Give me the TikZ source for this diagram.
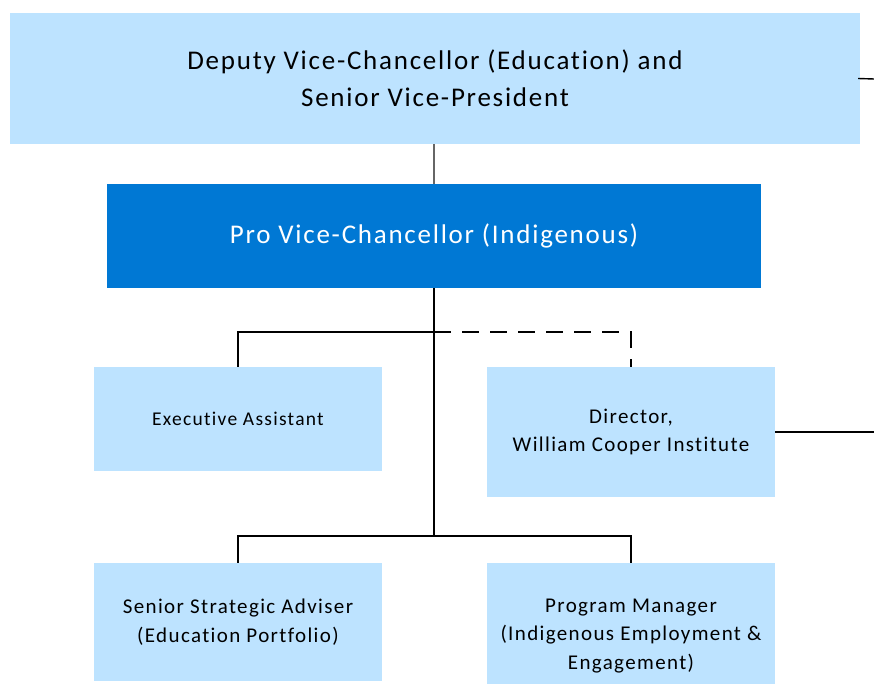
\documentclass[tikz,border=0pt]{standalone}
\usepackage{fontspec}
\setmainfont{Carlito}[LetterSpace=6.5, Ligatures=NoCommon]
\definecolor{lightbox}{RGB}{189,227,255}
\definecolor{darkbox}{RGB}{0,120,212}
\tikzset{
  unit/.style={fill=lightbox, inner sep=0pt, align=center, text=black},
  head/.style={fill=darkbox, inner sep=0pt, align=center, text=white},
  link/.style={line width=1.4pt, black}
}
\begin{document}
\begin{tikzpicture}[x=1pt,y=-1pt]
	\useasboundingbox (0,0) rectangle (874,684);
	\node[unit, minimum width=850pt, minimum height=131pt, font=\fontsize{27}{37}\selectfont] (dvc) at (435,78.5) {Deputy Vice-Chancellor (Education) and\\Senior Vice-President};
	\node[head, minimum width=654pt, minimum height=104pt, font=\fontsize{27}{32}\selectfont] (pvc) at (434,236) {Pro Vice-Chancellor (Indigenous)};
	\node[unit, minimum width=288pt, minimum height=104pt, font=\fontsize{19.5}{24}\selectfont] (ea) at (238,419) {Executive Assistant};
	\node[unit, minimum width=288pt, minimum height=130pt, font=\fontsize{21}{28}\selectfont] (dir) at (631,432) {Director,\\William Cooper Institute};
	\node[unit, minimum width=288pt, minimum height=118pt, font=\fontsize{21}{28.5}\selectfont] (ssa) at (238,622) {Senior Strategic Adviser\\(Education Portfolio)};
	\node[unit, minimum width=288pt, minimum height=146pt, font=\fontsize{21}{28.5}\selectfont] (pm) at (631,636) {Program Manager\\(Indigenous Employment \&\\Engagement)};
	%\coordinate for the junctions and the cut-off lines
	\coordinate (j1) at (434,332);
	\coordinate (j2) at (434,536);
	\coordinate (s1) at (874,79);
	\coordinate (s2) at (874,432);
	\draw[link, black!60] (dvc.south -| pvc.north) -- (pvc.north);
	\draw[link] (pvc.south) -- (j2);
	\draw[link] (ea.north) |- (j1);
	\draw[link, dash pattern=on 17pt off 11pt] (j1) -| (dir.north);
	\draw[link] (ssa.north) |- (j2) -| (pm.north);
	\draw[link] (dvc.east) ++(-2,0) -- (s1);
	\draw[link] (dir.east) -- (s2);
\end{tikzpicture}
\end{document}
